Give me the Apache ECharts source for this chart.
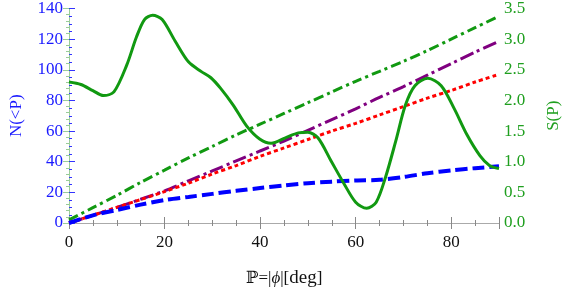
<!DOCTYPE html>
<html>
<head>
<meta charset="utf-8">
<script src="https://cdn.jsdelivr.net/npm/echarts@6/dist/echarts.min.js"></script>
<style>html,body{margin:0;padding:0;background:#fff}#c{width:570px;height:293px}</style>
</head>
<body>
<div id="c"></div>
<script>
// x grid (deg) for the N(<P) curves
const xGrid = [0,5,10,15,20,25,30,35,40,45,50,55,60,65,70,75,80,85,90];
const nBlue   = [0,5,8.5,12,15,17,19,21,22.8,24.5,26,27,27.8,28.2,30,32.5,34.3,35.8,37];
const nRed    = [0,5,10.2,15.3,20.5,26,32,37.5,43.5,49,54.5,60,65,70.5,76,81.5,86.5,92,97];
const nPurple = [0,5,10.2,15.5,21,27.5,34,40.5,47,53.5,60.5,67.5,74.5,82,89,96.5,104,111.5,118.6];
const nGreen  = [2,10,18,26.5,34.5,42.5,50,57.5,64.5,71.5,78.5,85.5,92.5,99,105.5,112.5,120,127.5,135];
// S(P) curve (right axis)
const sX = [0,2.5,5,7.2,9.4,12.1,14.1,15.8,17.5,19.5,22.2,25,27.7,29.7,31.7,34.4,37.2,39.9,42.3,45.3,48,50,52.1,54.8,57.5,60,62.3,64.3,66.3,68.4,70.4,72.4,75.1,77.9,80.6,83.3,86,88,90];
const sY = [2.30,2.26,2.16,2.08,2.14,2.58,3.03,3.32,3.39,3.32,2.97,2.63,2.47,2.37,2.2,1.92,1.58,1.37,1.30,1.39,1.47,1.48,1.39,1.02,0.65,0.34,0.24,0.34,0.76,1.34,1.92,2.24,2.36,2.24,1.87,1.44,1.10,0.94,0.89];
const xTicks = [0,20,40,60,80];

const pairs = (xs, ys) => xs.map((x, i) => [x, ys[i]]);
const serif = "'Liberation Serif','DejaVu Serif',serif";

const chart = echarts.init(document.getElementById('c'), null, {renderer: 'canvas'});
const xBase = {
  type: 'value', min: 0, max: 90, interval: 20,
  splitLine: {show: false},
  axisTick: {show: true, inside: true, length: 6, lineStyle: {color: '#888', width: 1}},
  minorTick: {show: true, splitNumber: 4, length: 3, lineStyle: {color: '#888', width: 1}}
};
chart.setOption({
  animation: false,
  backgroundColor: '#fff',
  grid: {left: 64, right: 64, top: 7, bottom: 65, containLabel: false},
  xAxis: [
    Object.assign({}, xBase, {
      position: 'bottom',
      axisLine: {show: true, lineStyle: {color: '#77bb77', width: 1}},
      axisLabel: {show: true, margin: 11, color: '#111', fontFamily: serif, fontSize: 17, showMaxLabel: false,
        formatter: v => xTicks.indexOf(v) >= 0 ? String(v) : ''},
      name: 'ℙ=|{i|ϕ}|[{d|deg}]',
      nameLocation: 'middle', nameGap: 46,
      nameTextStyle: {color: '#111', fontFamily: serif, fontSize: 17,
        rich: {i: {fontStyle: 'italic', fontFamily: serif, fontSize: 17, color: '#111'},
               d: {fontFamily: serif, fontSize: 19, color: '#111'}}}
    }),
    Object.assign({}, xBase, {
      position: 'top',
      axisLine: {show: true, lineStyle: {color: '#aaaaaa', width: 1}},
      axisLabel: {show: false}
    })
  ],
  yAxis: [
    {
      type: 'value', min: 0, max: 140, interval: 20, position: 'left',
      splitLine: {show: false},
      axisLine: {show: true, lineStyle: {color: '#3333ff', width: 1}},
      axisTick: {show: true, inside: true, length: 6, lineStyle: {color: '#3333ff'}},
      minorTick: {show: true, splitNumber: 4, length: 3, lineStyle: {color: '#3333ff'}},
      axisLabel: {color: '#1a1aff', fontFamily: serif, fontSize: 17, margin: 6},
      name: 'N(<P)', nameLocation: 'middle', nameGap: 44, nameRotate: 90,
      nameTextStyle: {color: '#1a1aff', fontFamily: serif, fontSize: 17}
    },
    {
      type: 'value', min: 0, max: 3.5, interval: 0.5, position: 'right',
      splitLine: {show: false},
      axisLine: {show: true, lineStyle: {color: '#99cc99', width: 1}},
      axisTick: {show: true, inside: true, length: 6, lineStyle: {color: '#99cc99'}},
      minorTick: {show: true, splitNumber: 5, length: 3, lineStyle: {color: '#99cc99'}},
      axisLabel: {color: '#1f9f1f', fontFamily: serif, fontSize: 17, margin: 5, formatter: v => v.toFixed(1)},
      name: 'S(P)', nameLocation: 'middle', nameGap: 46, nameRotate: 90,
      nameTextStyle: {color: '#1f9f1f', fontFamily: serif, fontSize: 17}
    }
  ],
  series: [
    {type: 'line', name: 'green-dd', xAxisIndex: 0, yAxisIndex: 0, data: pairs(xGrid, nGreen), showSymbol: false, smooth: 0.3,
      lineStyle: {color: '#119911', width: 3, type: [10, 4, 3, 4]}},
    {type: 'line', name: 'purple', xAxisIndex: 0, yAxisIndex: 0, data: pairs(xGrid, nPurple), showSymbol: false, smooth: 0.3,
      lineStyle: {color: '#800080', width: 3, type: [14, 4, 3, 4]}},
    {type: 'line', name: 'red', xAxisIndex: 0, yAxisIndex: 0, data: pairs(xGrid, nRed), showSymbol: false, smooth: 0.3,
      lineStyle: {color: '#ff0000', width: 3, type: [4, 3]}},
    {type: 'line', name: 'blue', xAxisIndex: 0, yAxisIndex: 0, data: pairs(xGrid, nBlue), showSymbol: false, smooth: 0.3,
      lineStyle: {color: '#0000ff', width: 4, type: [12, 5]}},
    {type: 'line', name: 'S', xAxisIndex: 0, yAxisIndex: 1, data: pairs(sX, sY), showSymbol: false, smooth: 0.3,
      lineStyle: {color: '#119911', width: 3, type: 'solid'}}
  ]
});
</script>
</body>
</html>
